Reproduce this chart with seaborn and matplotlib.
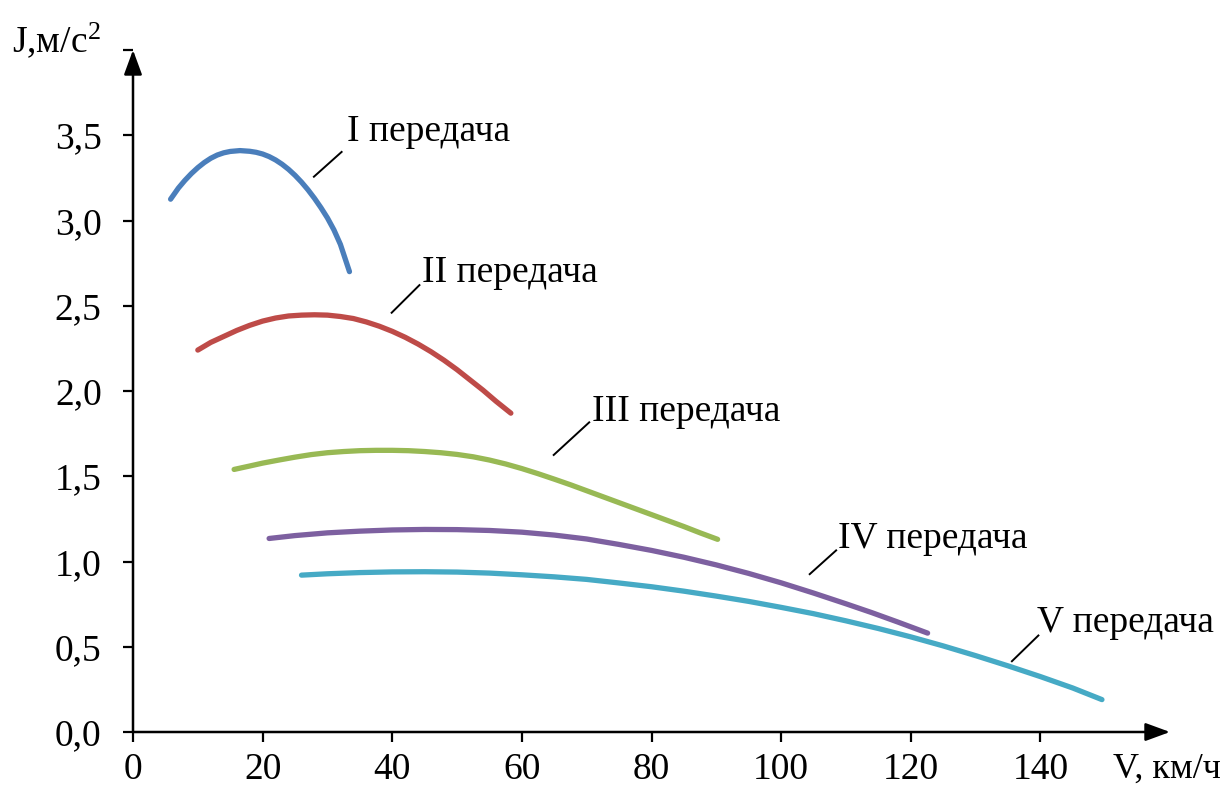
import matplotlib
matplotlib.use("Agg")
import matplotlib.pyplot as plt
import seaborn as sns
import pandas as pd

# Acceleration J (m/s^2) versus speed V (km/h) for each gear
gears = ["I", "II", "III", "IV", "V"]

v_1 = [5.8, 7, 8, 9, 10, 11, 12, 13, 14, 15, 16.5, 18, 19, 20, 21, 22, 23, 24, 25,
       26, 27, 28, 29, 30, 31, 32, 33.4]
j_1 = [3.125, 3.19, 3.235, 3.275, 3.31, 3.34, 3.365, 3.384, 3.397, 3.405, 3.41,
       3.406, 3.40, 3.39, 3.375, 3.355, 3.33, 3.30, 3.265, 3.225, 3.18, 3.13, 3.075,
       3.015, 2.945, 2.86, 2.70]

v_2 = [10, 12, 14, 16, 18, 20, 22, 24, 26, 28, 30, 32, 34, 36, 38, 40, 42, 44, 46,
       48, 50, 52, 54, 56, 58.3]
j_2 = [2.24, 2.285, 2.32, 2.355, 2.385, 2.41, 2.428, 2.44, 2.445, 2.447, 2.445,
       2.437, 2.425, 2.405, 2.38, 2.35, 2.315, 2.275, 2.23, 2.18, 2.125, 2.065,
       2.005, 1.94, 1.87]

v_3 = [15.6, 18, 20, 22.5, 25, 27.5, 30, 32.5, 35, 37.5, 40, 42.5, 45, 47.5, 50,
       52.5, 55, 57.5, 60, 62.5, 65, 67.5, 70, 72.5, 75, 77.5, 80, 82.5, 85, 87.5,
       90.2]
j_3 = [1.54, 1.56, 1.577, 1.595, 1.612, 1.627, 1.638, 1.645, 1.65, 1.652, 1.652,
       1.65, 1.645, 1.638, 1.628, 1.614, 1.595, 1.572, 1.545, 1.515, 1.483, 1.45,
       1.415, 1.38, 1.345, 1.31, 1.275, 1.24, 1.205, 1.168, 1.13]

v_4 = [21, 25, 30, 35, 40, 45, 50, 55, 60, 65, 70, 75, 80, 85, 90, 95, 100, 105,
       110, 114, 118, 122.6]
j_4 = [1.135, 1.152, 1.168, 1.178, 1.185, 1.188, 1.187, 1.182, 1.172, 1.155, 1.132,
       1.10, 1.065, 1.025, 0.98, 0.93, 0.875, 0.815, 0.752, 0.70, 0.645, 0.58]

v_5 = [26, 30, 35, 40, 45, 50, 55, 60, 65, 70, 75, 80, 85, 90, 95, 100, 105, 110,
       115, 120, 125, 130, 135, 140, 145, 149.5]
j_5 = [0.92, 0.928, 0.935, 0.939, 0.94, 0.938, 0.932, 0.922, 0.91, 0.895, 0.874,
       0.852, 0.826, 0.797, 0.766, 0.731, 0.694, 0.652, 0.607, 0.558, 0.505, 0.448,
       0.388, 0.325, 0.258, 0.19]

x_ticks = [0, 20, 40, 60, 80, 100, 120, 140]
y_ticks = [0.0, 0.5, 1.0, 1.5, 2.0, 2.5, 3.0, 3.5, 4.0]
y_tick_labels = ["0,0", "0,5", "1,0", "1,5", "2,0", "2,5", "3,0", "3,5", ""]

colors = ["#4A7EBB", "#BE4B48", "#98B954", "#7D60A0", "#46AAC5"]

series = [(v_1, j_1), (v_2, j_2), (v_3, j_3), (v_4, j_4), (v_5, j_5)]
df = pd.concat(
    [pd.DataFrame({"V": v, "J": j, "gear": g}) for g, (v, j) in zip(gears, series)],
    ignore_index=True,
)

sns.set_theme(style="white")
plt.rcParams["font.family"] = ["Liberation Serif", "DejaVu Serif"]
plt.rcParams["mathtext.fontset"] = "custom"
plt.rcParams["mathtext.rm"] = "Liberation Serif"
plt.rcParams["mathtext.it"] = "Liberation Serif"

fig = plt.figure(figsize=(12.32, 7.89), dpi=100)
ax = fig.add_axes([133 / 1232, 1 - 732 / 789, (1170 - 133) / 1232, (732 - 50) / 789])

sns.lineplot(data=df, x="V", y="J", hue="gear", palette=dict(zip(gears, colors)),
             sort=False, estimator=None, legend=False, linewidth=3.8, ax=ax)
for line in ax.get_lines():
    line.set_solid_capstyle("round")
    line.set_solid_joinstyle("round")

ax.set_xlim(0, 160)
ax.set_ylim(0, 4.0)
ax.set_xticks(x_ticks)
ax.set_xticklabels([str(t) for t in x_ticks])
ax.set_yticks(y_ticks)
ax.set_yticklabels(y_tick_labels)
ax.set_xlabel("")
ax.set_ylabel("")
for s in ax.spines.values():
    s.set_visible(False)
ax.tick_params(axis="both", which="major", direction="out", length=7.5, width=1.6,
               color="black", labelsize=27, labelcolor="black")
ax.tick_params(axis="x", pad=7, bottom=True)
ax.tick_params(axis="y", pad=15, left=True)

# Axis arrows
arrow = dict(arrowstyle="-|>,head_length=0.6,head_width=0.22", color="black",
             lw=1.8, mutation_scale=25, shrinkA=0, shrinkB=0)
ax.annotate("", xy=(1, 0), xytext=(0, 0), xycoords="axes fraction",
            textcoords="axes fraction", arrowprops=arrow, annotation_clip=False)
ax.annotate("", xy=(0, 1), xytext=(0, 0), xycoords="axes fraction",
            textcoords="axes fraction", arrowprops=arrow, annotation_clip=False)

# Gear labels with leader lines
labels = [
    ("I передача", (27.8, 3.253), (32.3, 3.406), (33.0, 3.465)),
    ("II передача", (39.8, 2.455), (44.3, 2.625), (44.6, 2.637)),
    ("III передача", (64.8, 1.621), (70.5, 1.820), (70.8, 1.826)),
    ("IV передача", (104.3, 0.922), (108.6, 1.069), (108.8, 1.080)),
    ("V передача", (135.5, 0.411), (139.8, 0.570), (139.5, 0.589)),
]
for text, p0, p1, pt in labels:
    ax.plot([p0[0], p1[0]], [p0[1], p1[1]], color="black", lw=1.4,
            solid_capstyle="butt", clip_on=False)
    ax.text(pt[0], pt[1], text, fontsize=27, ha="left", va="baseline", color="black")

fig.text(12 / 1232, 1 - 52 / 789, "J,м/с$^{2}$", fontsize=27, ha="left",
         va="baseline", color="black")
fig.text(1113 / 1232, 1 - 778 / 789, "V, км/ч", fontsize=26, ha="left",
         va="baseline", color="black")

fig.savefig("out.png", dpi=100, facecolor="white")
